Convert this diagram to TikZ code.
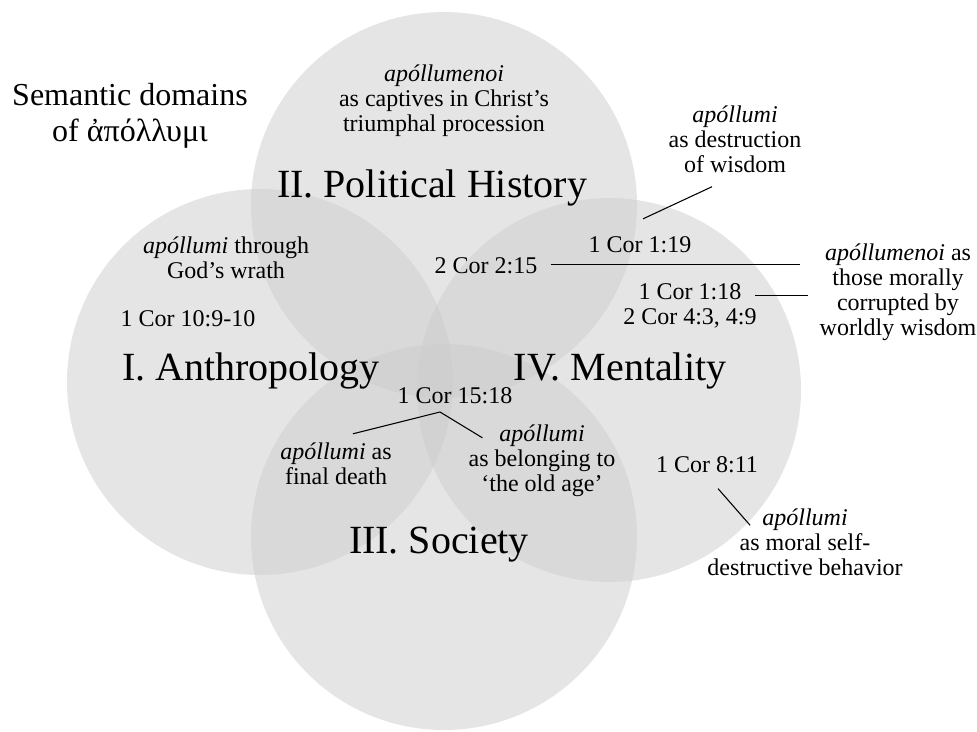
\documentclass[tikz,border=0pt]{standalone}
\usepackage{fontspec}
\setmainfont{Liberation Serif}
\usetikzlibrary{calc}
\begin{document}
\begin{tikzpicture}[x=0.75pt, y=-0.75pt,
        circ/.style={fill=gray!40, fill opacity=0.5},
        domainlabel/.style={font=\fontsize{30}{34}\selectfont, inner sep=0pt, anchor=base},
        refnote/.style={font=\fontsize{18}{18.75}\selectfont, inner sep=0pt, anchor=base},
        gloss/.style={font=\fontsize{18}{18.75}\selectfont, align=center, inner sep=0pt},
        leader/.style={line width=0.8pt}]

        \useasboundingbox (0,0) rectangle (977,731);

        % ==================== 四个半透明的圆 ====================
        \fill[circ] (444,205) circle (193); % II
        \fill[circ] (260,382) circle (193); % I
        \fill[circ] (609,390) circle (192); % IV
        \fill[circ] (444,537) circle (193); % III

        % 左上角标题
        \node[font=\fontsize{24}{27}\selectfont, align=center] (title) at (130,116) {Semantic domains\\of ἀπόλλυμι};

        % ==================== 四个领域的名称 ====================
        \node[domainlabel] (polhist) at (432,197) {II. Political History};
        \node[domainlabel] (anthro) at (251,380) {I. Anthropology};
        \node[domainlabel] (mental) at (620,380) {IV. Mentality};
        \node[domainlabel] (society) at (439,553) {III. Society};

        % ==================== 经文出处 ====================
        \node[refnote] (cor119) at (640,252) {1 Cor 1:19};
        \node[refnote] (cor215) at (486,273) {2 Cor 2:15};
        \node[gloss] (cor118) at (690,306) {1 Cor 1:18\\2 Cor 4:3, 4:9};
        \node[refnote] (cor910) at (188,326) {1 Cor 10:9-10};
        \node[refnote] (cor1518) at (455,403) {1 Cor 15:18};
        \node[refnote] (cor811) at (707,472) {1 Cor 8:11};

        % ==================== 释义 ====================
        \node[gloss] (captives) at (444,101) {\textit{apóllumenoi}\\as captives in Christ’s\\triumphal procession};
        \node[gloss] (destr) at (735,139) {\textit{apóllumi}\\as destruction\\of wisdom};
        \node[gloss] (morally) at (898,292) {\textit{apóllumenoi} as\\those morally\\corrupted by\\worldly wisdom};
        \node[gloss] (wrath) at (226,258) {\textit{apóllumi} through\\God’s wrath};
        \node[gloss] (death) at (336,464) {\textit{apóllumi} as\\final death};
        \node[gloss] (belong) at (542,461) {\textit{apóllumi}\\as belonging to\\‘the old age’};
        \node[gloss] (moral) at (805,542) {\textit{apóllumi}\\as moral self-\\destructive behavior};

        % ==================== 引线 ====================
        \draw[leader] ([shift={(3,-17)}]cor119.north) -- ([shift={(-23,14)}]destr.south);
        \coordinate (l215) at ([shift={(13,-1)}]cor215.east);
        \draw[leader] (l215) -- ($(l215 -| morally.west)+(-19,0)$);
        \coordinate (l118) at ([shift={(-2,12)}]cor118.north east);
        \draw[leader] (l118) -- ($(l118 -| morally.west)+(-11,0)$);
        \coordinate (fork) at ([shift={(-15,9)}]cor1518.base);
        \draw[leader] ([shift={(17,-9)}]death.north) -- (fork) -- ([shift={(14,13)}]belong.north west);
        \draw[leader] ([shift={(11,16)}]cor811.south) -- ([shift={(43,17)}]moral.north west);

    \end{tikzpicture}
\end{document}
